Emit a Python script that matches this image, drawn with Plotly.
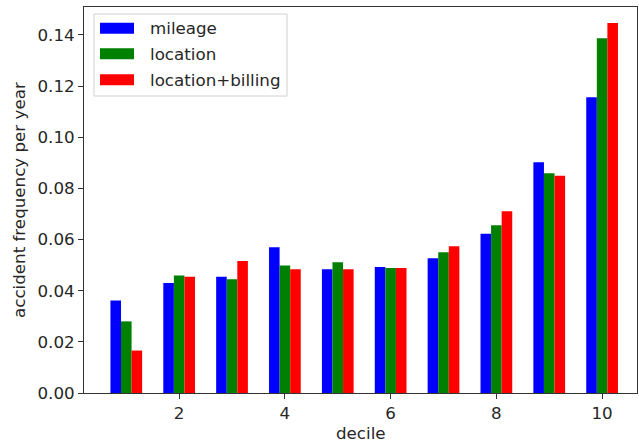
import plotly.graph_objects as go

deciles = [1, 2, 3, 4, 5, 6, 7, 8, 9, 10]
mileage = [0.0362, 0.0430, 0.0454, 0.0570, 0.0484, 0.0493, 0.0527, 0.0623, 0.0902, 0.1156]
location = [0.0280, 0.0459, 0.0445, 0.0498, 0.0511, 0.0489, 0.0550, 0.0656, 0.0859, 0.1387]
location_billing = [0.0166, 0.0454, 0.0516, 0.0484, 0.0484, 0.0489, 0.0574, 0.0711, 0.0849, 0.1446]
series_names = ["mileage", "location", "location+billing"]
series_colors = ["blue", "green", "red"]
x_ticks = [2, 4, 6, 8, 10]
y_ticks = [0.00, 0.02, 0.04, 0.06, 0.08, 0.10, 0.12, 0.14]

W, H = 639, 444
L, R, T, B = 84, 2, 7, 51
pw, ph = W - L - R, H - T - B

FONT = "DejaVu Sans"
FS = 16.7
AX = "#333333"
TXT = "#262626"

fig = go.Figure()
for name, vals, col in zip(series_names, [mileage, location, location_billing], series_colors):
    fig.add_trace(go.Bar(x=deciles, y=vals, name=name, marker=dict(color=col, line=dict(width=0)),
                         showlegend=False))

def px_x(p):
    return (p - L) / pw

def px_y(p):
    return 1 - (p - T) / ph

shapes = []
annotations = []
# legend box
shapes.append(dict(type="rect", xref="paper", yref="paper",
                   x0=px_x(94), x1=px_x(287), y0=px_y(96), y1=px_y(14),
                   line=dict(color="#d0d0d0", width=1), fillcolor="rgba(255,255,255,0.8)", layer="above"))
rows = [28.3, 53.8, 79.8]
for name, col, yc in zip(series_names, series_colors, rows):
    shapes.append(dict(type="rect", xref="paper", yref="paper",
                       x0=px_x(100), x1=px_x(134), y0=px_y(yc + 5.5), y1=px_y(yc - 5.5),
                       line=dict(width=0), fillcolor=col, layer="above"))
    annotations.append(dict(text=name, xref="paper", yref="paper", x=px_x(148), y=px_y(yc),
                            xanchor="left", yanchor="middle", showarrow=False,
                            font=dict(family=FONT, size=FS, color=TXT)))

annotations.append(dict(text="decile", xref="paper", yref="paper", x=px_x(361), y=px_y(433),
                        xanchor="center", yanchor="middle", showarrow=False,
                        font=dict(family=FONT, size=FS, color=TXT)))
annotations.append(dict(text="accident frequency per year", xref="paper", yref="paper",
                        x=px_x(19), y=px_y(200), xanchor="center", yanchor="middle",
                        textangle=-90, showarrow=False,
                        font=dict(family=FONT, size=FS, color=TXT)))

fig.update_layout(
    width=W, height=H,
    margin=dict(l=L, r=R, t=T, b=B, pad=0),
    paper_bgcolor="white", plot_bgcolor="white",
    barmode="group", bargap=0.4, bargroupgap=0,
    font=dict(family=FONT, size=FS, color=TXT),
    shapes=shapes, annotations=annotations,
    showlegend=False,
)
fig.update_xaxes(range=[0.2, 10.66], tickvals=x_ticks, ticktext=[str(v) for v in x_ticks],
                 showgrid=False, zeroline=False, showline=True, linecolor=AX, linewidth=1,
                 mirror=True, ticks="outside", ticklen=5, tickcolor=AX, tickwidth=1)
fig.update_yaxes(range=[0, 0.1509], tickvals=y_ticks, ticktext=[f"{v:.2f}" for v in y_ticks],
                 showgrid=False, zeroline=False, showline=True, linecolor=AX, linewidth=1,
                 mirror=True, ticks="outside", ticklen=5, tickcolor=AX, tickwidth=1)

fig.write_html("out.html", config={"displayModeBar": False},
               post_script="document.body.style.margin='0';document.body.style.overflow='hidden';")
